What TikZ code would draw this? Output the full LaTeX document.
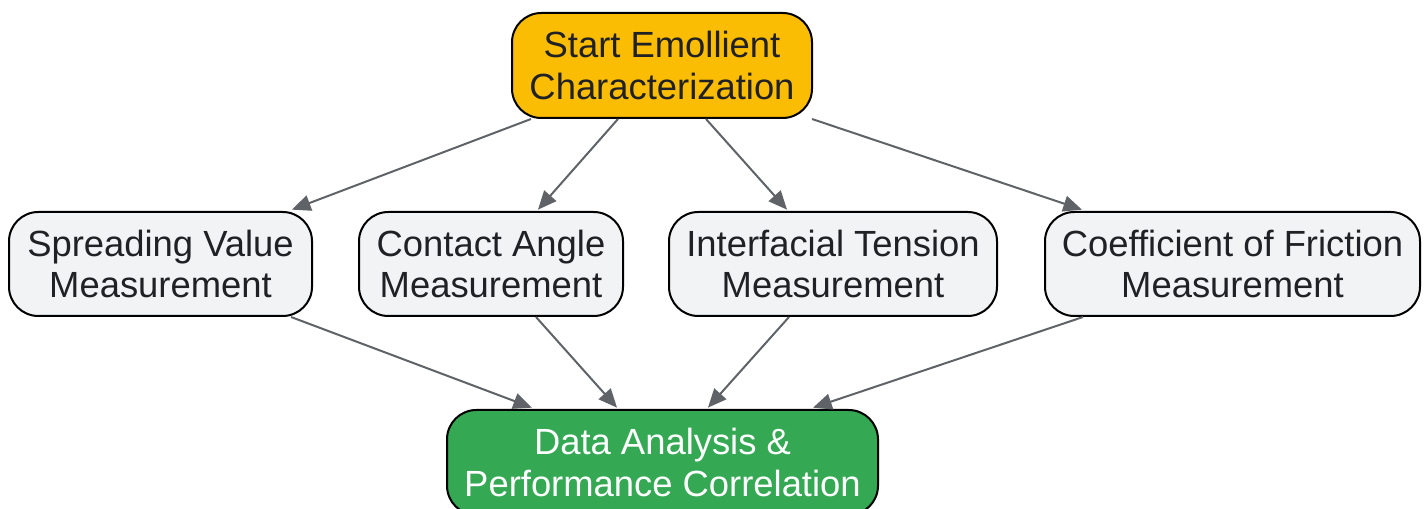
\documentclass[tikz,border=0pt]{standalone}
\usepackage{fontspec}
\setmainfont{Liberation Sans}
\usetikzlibrary{arrows.meta,calc}
\definecolor{startfill}{HTML}{FBBC04}
\definecolor{measfill}{HTML}{F1F3F4}
\definecolor{endfill}{HTML}{34A853}
\definecolor{edgecol}{HTML}{5F6368}
\definecolor{txt}{HTML}{202124}
\begin{document}
\begin{tikzpicture}[x=0.75pt,y=-0.75pt,
  box/.style={draw=black,line width=1.5pt,rounded corners=22pt,align=center,
    inner sep=0pt,text=txt,font=\fontsize{27.3}{31}\selectfont},
  startbox/.style={box,fill=startfill,minimum width=225pt,minimum height=78.75pt},
  measbox/.style={box,fill=measfill,minimum height=78pt},
  endbox/.style={box,fill=endfill,text=white,minimum width=323.25pt,minimum height=78.75pt},
  edge/.style={draw=edgecol,line width=1.5pt,-{Triangle[length=14pt,width=12pt]}}]
\useasboundingbox (0,0) rectangle (1428,509);
\clip (0,0) rectangle (1428,509);
\node[startbox] (s) at (662,65.5) {Start Emollient\\Characterization};
\node[measbox,minimum width=227.25pt] (a) at (160.5,264) {Spreading Value\\Measurement};
\node[measbox,minimum width=198pt] (b) at (491,264) {Contact Angle\\Measurement};
\node[measbox,minimum width=246pt] (c) at (833,264) {Interfacial Tension\\Measurement};
\node[measbox,minimum width=281.25pt] (d) at (1232.5,264) {Coefficient of Friction\\Measurement};
\node[endbox] (e) at (662.5,462.5) {Data Analysis \&\\Performance Correlation};
\draw[edge] ([xshift=-98.25pt]s.south) -- ([xshift=98.6pt,yshift=1pt]a.north);
\draw[edge] ([xshift=-33pt]s.south) -- ([xshift=35.25pt,yshift=1pt]b.north);
\draw[edge] ([xshift=33pt]s.south) -- ([xshift=-34.5pt,yshift=1pt]c.north);
\draw[edge] ([xshift=112.5pt]s.south) -- ([xshift=-112.9pt,yshift=1pt]d.north);
\draw[edge] ([xshift=97.9pt]a.south) -- ([xshift=-97.9pt,yshift=1pt]e.north);
\draw[edge] ([xshift=33.75pt]b.south) -- ([xshift=-34.1pt,yshift=1pt]e.north);
\draw[edge] ([xshift=-33pt]c.south) -- ([xshift=34.1pt,yshift=1pt]e.north);
\draw[edge] ([xshift=-112.1pt]d.south) -- ([xshift=112.9pt,yshift=1pt]e.north);
\end{tikzpicture}
\end{document}
